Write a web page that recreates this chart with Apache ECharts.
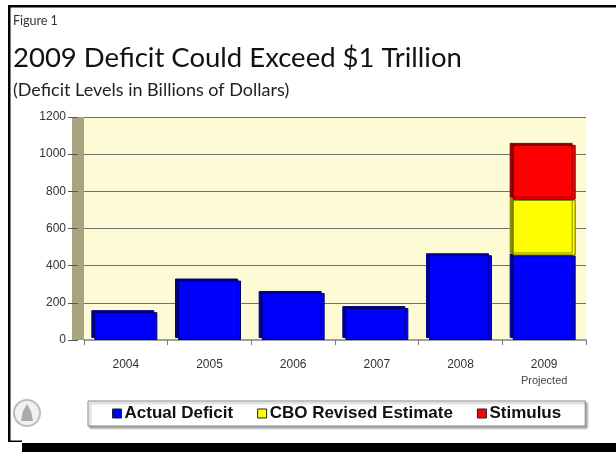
<!DOCTYPE html>
<html>
<head>
<meta charset="utf-8">
<script src="https://cdn.jsdelivr.net/npm/echarts@6/dist/echarts.min.js"></script>
<style>html,body{margin:0;padding:0;background:#fff;}#c{width:616px;height:452px;}</style>
</head>
<body>
<div id="c"></div>
<script>
var categories = ['2004', '2005', '2006', '2007', '2008', '2009'];
var actualDeficit = [150, 320, 253, 172, 456, 455];
var cboRevised = [null, null, null, null, null, 300];
var stimulus = [null, null, null, null, null, 295];
var yTicks = [0, 200, 400, 600, 800, 1000, 1200];

var chart = echarts.init(document.getElementById('c'), null, {renderer: 'canvas'});
var barShadow = function (c) {
  return {shadowColor: c, shadowBlur: 0, shadowOffsetX: -3, shadowOffsetY: -2};
};
chart.setOption({
  animation: false,
  backgroundColor: '#ffffff',
  title: [
    {text: 'Figure 1', left: 8, top: 9, textStyle: {fontFamily: 'Lato', fontSize: 12.5, fontWeight: 'normal', color: '#333'}},
    {text: '2009 Deficit Could Exceed $1 Trillion', left: 8, top: 39, textStyle: {fontFamily: 'Lato', fontSize: 27.5, fontWeight: 'normal', color: '#111'}},
    {text: '(Deficit Levels in Billions of Dollars)', left: 8, top: 76, textStyle: {fontFamily: 'Lato', fontSize: 18, fontWeight: 'normal', color: '#222'}}
  ],
  graphic: [
    {type: 'rect', shape: {x: 8, y: 5, width: 608, height: 2.5}, style: {fill: '#000'}},
    {type: 'rect', shape: {x: 8, y: 5, width: 2.5, height: 437}, style: {fill: '#000'}},
    {type: 'rect', shape: {x: 8, y: 440.5, width: 14, height: 1.5}, style: {fill: '#000'}},
    {type: 'rect', shape: {x: 22, y: 443, width: 594, height: 9}, style: {fill: '#000'}},
    {type: 'circle', shape: {cx: 27, cy: 413, r: 13}, style: {fill: '#f2f2f2', stroke: '#bdbdbd', lineWidth: 2}},
    {type: 'polygon', shape: {points: [[21, 421], [33, 421], [31, 411], [27, 404], [23, 411]]}, style: {fill: '#aaa'}}
  ],
  legend: {
    left: 88, top: 401,
    padding: [4, 24, 4, 24],
    itemGap: 24,
    itemWidth: 9, itemHeight: 9,
    icon: 'rect',
    borderColor: '#8a8a8a', borderWidth: 1,
    backgroundColor: '#fff',
    shadowColor: 'rgba(0,0,0,0.35)', shadowBlur: 2, shadowOffsetX: 2, shadowOffsetY: 2,
    itemStyle: {borderColor: '#222', borderWidth: 1},
    textStyle: {fontFamily: 'Liberation Sans', fontWeight: 'bold', fontSize: 17, color: '#111', padding: [0, 0, 0, -2]},
    data: ['Actual Deficit', 'CBO Revised Estimate', 'Stimulus']
  },
  grid: {
    left: 84, right: 30, top: 117, bottom: 112,
    show: true, backgroundColor: '#fdfbd6', borderWidth: 0
  },
  xAxis: {
    type: 'category',
    data: categories,
    axisLine: {show: true, lineStyle: {color: '#a0a0a0', width: 2}},
    axisTick: {show: true, length: 5, lineStyle: {color: '#777'}},
    axisLabel: {
      interval: 0,
      margin: 17,
      fontFamily: 'Liberation Sans', fontSize: 12, color: '#333', lineHeight: 16,
      formatter: function (v) { return v === '2009' ? v + '\n{p|Projected}' : v; },
      rich: {p: {fontFamily: 'Liberation Sans', fontSize: 11, color: '#444', lineHeight: 16}}
    }
  },
  yAxis: {
    type: 'value',
    min: 0, max: 1200, interval: 200,
    offset: 6,
    axisLine: {show: true, lineStyle: {color: '#a9a47f', width: 12, cap: 'butt'}},
    axisTick: {show: true, length: 10, lineStyle: {color: '#555'}},
    axisLabel: {
      margin: 12,
      fontFamily: 'Liberation Sans', fontSize: 12, color: '#333',
      formatter: function (v) { return yTicks.indexOf(v) >= 0 ? String(v) : ''; }
    },
    splitLine: {show: true, lineStyle: {color: '#6f6f6f', width: 1}}
  },
  series: [
    {name: 'Actual Deficit', type: 'bar', stack: 'd', barWidth: 63, data: actualDeficit,
     itemStyle: Object.assign({color: '#0000ff', borderColor: '#00006a', borderWidth: 1}, barShadow('#000090'))},
    {name: 'CBO Revised Estimate', type: 'bar', stack: 'd', barWidth: 63, data: cboRevised,
     itemStyle: Object.assign({color: '#ffff00', borderColor: '#6a6a00', borderWidth: 1}, barShadow('#8a8a00'))},
    {name: 'Stimulus', type: 'bar', stack: 'd', barWidth: 63, data: stimulus,
     itemStyle: Object.assign({color: '#ff0000', borderColor: '#6a0000', borderWidth: 1}, barShadow('#900000'))}
  ]
});
</script>
</body>
</html>
